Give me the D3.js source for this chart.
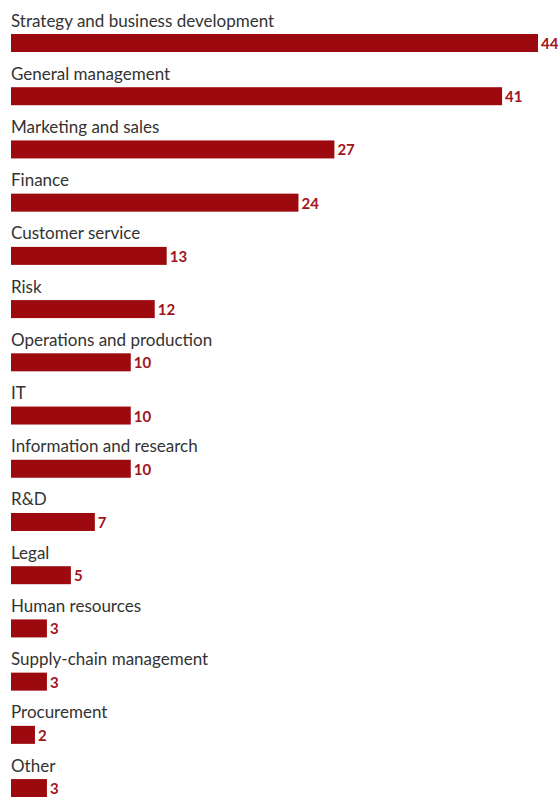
<!DOCTYPE html>
<html>
<head>
<meta charset="utf-8">
<script src="https://cdn.jsdelivr.net/npm/d3@7"></script>
<style>
  html, body { margin: 0; padding: 0; background: #fff; }
  svg { display: block; }
</style>
</head>
<body>
<svg id="chart" width="559" height="797"></svg>
<script>
// Share of respondents by function
const categories = [
  "Strategy and business development",
  "General management",
  "Marketing and sales",
  "Finance",
  "Customer service",
  "Risk",
  "Operations and production",
  "IT",
  "Information and research",
  "R&D",
  "Legal",
  "Human resources",
  "Supply-chain management",
  "Procurement",
  "Other"
];
const values = [44, 41, 27, 24, 13, 12, 10, 10, 10, 7, 5, 3, 3, 2, 3];

const barColor = "#9c0a0f";
const valueColor = "#a11520";
const textColor = "#333333";

const svg = d3.select("#chart");
const left = 11;

const x = d3.scaleLinear().domain([0, 44]).range([left, 538]);
const y = d3.scaleBand()
  .domain(categories)
  .range([34 - 35.3, 797])
  .paddingInner(0)
  .paddingOuter(0);

const barH = 18;
const bandTop = d => y(d) + 35.3; // top of each bar

const rows = svg.selectAll("g.row")
  .data(categories.map((c, i) => ({ c, v: values[i] })))
  .join("g")
  .attr("class", "row");

rows.append("text")
  .attr("x", left)
  .attr("y", d => bandTop(d.c) - 7.5)
  .attr("font-family", "Lato, 'Open Sans', sans-serif")
  .attr("font-size", 17)
  .attr("fill", textColor)
  .text(d => d.c);

rows.append("rect")
  .attr("x", x(0))
  .attr("y", d => bandTop(d.c))
  .attr("width", d => x(d.v) - x(0))
  .attr("height", barH)
  .attr("fill", barColor);

rows.append("text")
  .attr("x", d => x(d.v) + 3)
  .attr("y", d => bandTop(d.c) + barH - 3)
  .attr("font-family", "Lato, 'Open Sans', sans-serif")
  .attr("font-weight", "bold")
  .attr("font-size", 15)
  .attr("fill", valueColor)
  .text(d => d.v);
</script>
</body>
</html>
